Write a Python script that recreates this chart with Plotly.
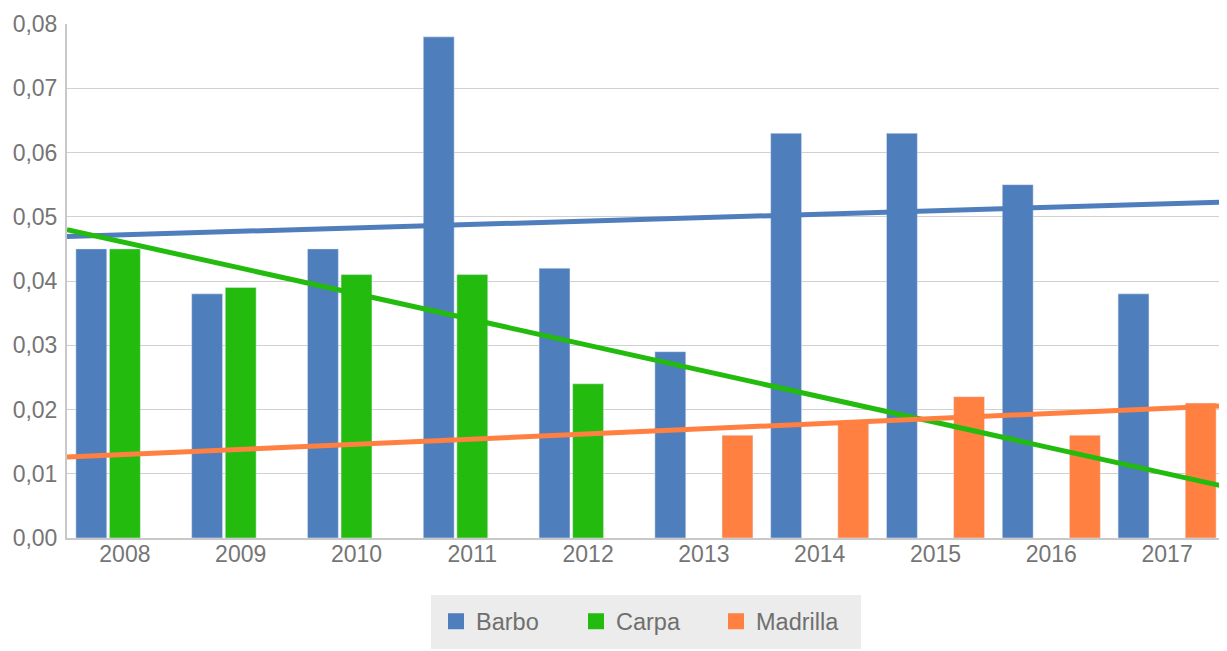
import numpy as np
import plotly.graph_objects as go

years = ["2008", "2009", "2010", "2011", "2012", "2013", "2014", "2015", "2016", "2017"]
barbo = [0.045, 0.038, 0.045, 0.078, 0.042, 0.029, 0.063, 0.063, 0.055, 0.038]
carpa = [0.045, 0.039, 0.041, 0.041, 0.024, None, None, None, None, None]
madrilla = [None, None, None, None, None, 0.016, 0.018, 0.022, 0.016, 0.021]

names = ["Barbo", "Carpa", "Madrilla"]
colors = ["#4f7ebd", "#22bb0e", "#ff8041"]
series = [barbo, carpa, madrilla]

xpos = list(range(len(years)))
fig = go.Figure()

for name, vals, col in zip(names, series, colors):
    fig.add_trace(go.Bar(x=xpos, y=vals, name=name, marker_color=col,
                         showlegend=False))

# linear trend lines (least squares on available points), spanning the full axis
x_edges = np.array([-0.5, len(years) - 0.5])
for name, vals, col in zip(names, series, colors):
    xs = np.array([i for i, v in zip(xpos, vals) if v is not None], dtype=float)
    ys = np.array([v for v in vals if v is not None], dtype=float)
    k, b = np.polyfit(xs, ys, 1)
    fig.add_trace(go.Scatter(x=x_edges, y=k * x_edges + b, mode="lines",
                             line=dict(color=col, width=5), showlegend=False,
                             hoverinfo="skip"))

# legend entries
for name, col in zip(names, colors):
    fig.add_trace(go.Scatter(x=[None], y=[None], mode="markers", name=name,
                             marker=dict(symbol="square", size=16, color=col)))

fig.update_layout(
    width=1219, height=643,
    margin=dict(l=59, r=2, t=16, b=107),
    paper_bgcolor="white", plot_bgcolor="white",
    separators=", ",
    font=dict(family="Liberation Sans, Arial, sans-serif", color="#757575", size=23),
    barmode="group", bargap=0.13, bargroupgap=0.08,
    showlegend=True,
    legend=dict(orientation="h", x=0.5, xanchor="center", y=-0.11, yanchor="top",
                bgcolor="#ececec", bordercolor="#ececec", borderwidth=5,
                font=dict(size=23.5, color="#6f6f6f"),
                entrywidth=95, traceorder="normal"),
    xaxis=dict(range=[-0.5, len(years) - 0.5], tickmode="array", tickvals=xpos,
               ticktext=years, showgrid=False, zeroline=False, automargin=False,
               showline=True, linecolor="#c8c8c8", linewidth=2, ticks="",
               ticklabelstandoff=-6),
    yaxis=dict(range=[0, 0.08], dtick=0.01, tickformat=".2f", showgrid=True,
               gridcolor="#d0d0d0", gridwidth=1, zeroline=False, automargin=False,
               showline=True, linecolor="#c8c8c8", linewidth=2, ticks="",
               ticklabelstandoff=3),
)

fig.write_html("out.html")
